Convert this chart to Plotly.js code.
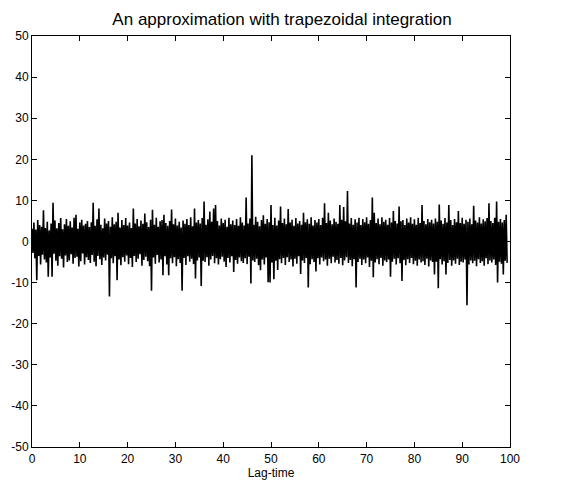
<!DOCTYPE html>
<html>
<head>
<meta charset="utf-8">
<script src="https://cdn.plot.ly/plotly-3.0.1.min.js"></script>
<style>html,body{margin:0;padding:0;background:#fff;}#chart{width:568px;height:480px;}</style>
</head>
<body>
<div id="chart"></div>
<script>
// Lag-time sampling of the series: start and step (used as Plotly x0/dx)
const lagStart = 0;
const lagStep = 0.2;

// Values, one every 0.2 lag-time
// (the dense trace alternates between its upper and lower excursions)
const approxValues = [
  3.1, -2.8, 4.6, -4.1, 2.9, -9.4, 5.2, -3.5, 4.0, -5.6, 3.6, -3.2, 7.6, -4.4, 3.3, -5.1, 4.8, -8.6, 2.7, -3.9,
  4.4, -8.6, 9.4, -3.0, 5.1, -4.7, 3.2, -5.9, 4.5, -3.6, 5.7, -4.2, 3.0, -6.3, 4.2, -3.4, 5.5, -5.0, 3.8, -4.6,
  4.9, -3.1, 3.4, -5.4, 5.8, -4.0, 6.5, -3.7, 3.1, -6.1, 4.6, -4.8, 5.3, -2.9, 3.9, -5.6, 4.3, -3.8, 5.0, -4.5,
  3.5, -5.2, 4.7, -3.3, 9.4, -4.9, 3.8, -6.0, 5.4, -3.5, 8.0, -4.3, 4.1, -5.7, 3.2, -3.9, 5.6, -4.6, 4.4, -3.2,
  5.0, -13.4, 3.6, -4.1, 5.9, -5.3, 4.2, -3.6, 4.8, -9.4, 7.0, -4.4, 3.4, -5.8, 5.2, -3.8, 4.0, -4.9, 5.7, -3.4,
  3.9, -5.5, 4.6, -4.0, 3.3, -6.2, 8.0, -3.5, 4.4, -5.0, 5.5, -4.2, 3.7, -3.1, 5.1, -5.9, 4.3, -4.5, 6.8, -3.7,
  4.7, -4.8, 3.5, -6.0, 5.3, -12.0, 7.7, -3.9, 4.1, -5.4, 5.8, -3.3, 3.6, -5.1, 4.9, -4.4, 5.2, -8.2, 6.5, -3.6,
  4.5, -5.6, 3.8, -8.2, 5.0, -4.1, 7.8, -5.3, 4.2, -3.8, 5.6, -6.0, 3.9, -4.3, 4.8, -5.2, 3.4, -12.0, 5.1, -4.0,
  4.3, -5.7, 5.5, -3.6, 4.0, -4.9, 5.9, -4.2, 3.7, -5.5, 8.0, -9.0, 4.6, -4.6, 5.2, -3.9, 4.4, -10.8, 5.7, -4.7,
  9.7, -5.0, 4.1, -3.8, 5.4, -5.9, 7.3, -4.4, 4.8, -3.5, 8.0, -5.3, 8.9, -4.1, 5.0, -5.6, 3.9, -4.3, 5.6, -3.7,
  4.5, -4.9, 5.3, -6.2, 3.6, -4.0, 5.8, -5.1, 4.2, -3.6, 5.1, -7.4, 4.0, -4.5, 5.5, -5.4, 3.8, -3.9, 5.9, -4.8,
  4.6, -5.2, 3.9, -4.1, 10.7, -5.5, 4.4, -3.7, 5.6, -10.2, 21.0, -4.6, 4.1, -5.0, 6.0, -4.2, 4.8, -5.8, 3.7, -7.0,
  5.2, -4.4, 6.4, -5.6, 4.3, -3.9, 5.5, -9.9, 4.7, -10.0, 8.9, -5.1, 4.0, -9.2, 5.8, -4.7, 3.9, -6.9, 5.1, -4.3,
  8.5, -5.3, 4.5, -4.0, 5.6, -5.7, 4.2, -3.8, 7.9, -5.0, 4.6, -4.4, 5.3, -6.1, 3.8, -4.2, 5.7, -5.4, 4.4, -3.6,
  5.0, -7.9, 4.1, -4.6, 7.0, -5.2, 4.7, -4.0, 5.4, -11.2, 4.3, -5.5, 5.9, -4.3, 3.9, -5.0, 5.2, -7.3, 4.6, -4.1,
  5.5, -5.6, 4.0, -3.9, 5.8, -4.8, 9.3, -4.4, 4.5, -5.9, 7.0, -4.2, 5.1, -5.3, 4.2, -3.7, 5.6, -5.1, 4.8, -4.5,
  4.3, -5.4, 8.9, -4.0, 5.3, -5.8, 8.4, -4.6, 4.9, -3.8, 12.3, -5.2, 4.4, -4.5, 5.7, -6.0, 4.1, -4.3, 5.4, -11.2,
  4.6, -5.0, 5.8, -4.2, 4.0, -5.7, 5.5, -4.4, 4.7, -5.3, 5.9, -3.9, 4.3, -6.2, 5.2, -4.7, 10.7, -8.7, 7.0, -5.1,
  4.5, -4.3, 5.6, -5.5, 4.2, -4.0, 5.9, -5.9, 4.8, -4.6, 5.3, -5.0, 4.1, -4.4, 5.7, -8.6, 4.6, -4.9, 7.4, -4.2,
  5.0, -5.6, 4.4, -4.1, 8.5, -5.3, 4.9, -9.6, 5.2, -4.5, 4.0, -5.8, 5.6, -4.3, 4.6, -5.2, 5.9, -4.0, 4.3, -5.5,
  5.4, -4.7, 4.1, -5.9, 5.8, -4.4, 4.5, -5.1, 8.9, -4.8, 5.0, -5.7, 4.2, -4.2, 5.5, -6.1, 4.7, -4.6, 5.3, -5.0,
  4.4, -8.0, 5.6, -4.9, 4.8, -11.4, 9.0, -4.3, 5.1, -5.6, 4.3, -4.8, 5.7, -8.0, 4.6, -5.2, 8.9, -4.5, 5.2, -5.9,
  4.0, -4.6, 5.5, -5.4, 4.7, -4.2, 7.4, -5.7, 4.5, -4.9, 5.8, -5.1, 4.3, -4.4, 5.3, -15.5, 4.8, -5.6, 5.6, -4.6,
  4.2, -5.3, 8.7, -4.7, 5.1, -6.0, 4.6, -4.3, 5.9, -5.2, 4.4, -4.8, 5.4, -5.9, 4.9, -4.1, 5.7, -5.5, 9.3, -4.6,
  5.0, -5.1, 4.5, -4.4, 5.8, -5.7, 9.7, -10.0, 4.8, -4.9, 5.5, -5.4, 4.6, -8.0, 5.2, -4.7, 6.5, -5.2
];

// Axis ticks
const xTicks = [0, 10, 20, 30, 40, 50, 60, 70, 80, 90, 100];
const yTicks = [-50, -40, -30, -20, -10, 0, 10, 20, 30, 40, 50];

const titleText = 'An approximation with trapezoidal integration';
const xTitle = 'Lag-time';

const fontFam = '"Liberation Sans", Arial, Helvetica, sans-serif';

const trace = {
  type: 'scatter',
  mode: 'lines',
  x0: lagStart,
  dx: lagStep,
  y: approxValues,
  line: {color: '#000000', width: 1.6},
  hoverinfo: 'skip'
};

const axisCommon = {
  showgrid: false,
  zeroline: false,
  showline: true,
  linecolor: '#000',
  linewidth: 1,
  mirror: 'ticks',
  ticks: 'inside',
  ticklen: 5,
  tickwidth: 1,
  tickcolor: '#000',
  tickfont: {family: fontFam, size: 12, color: '#000'},
  tickmode: 'array'
};

const layout = {
  width: 568,
  height: 480,
  margin: {l: 32, r: 58, t: 36, b: 33, pad: 0},
  paper_bgcolor: '#fff',
  plot_bgcolor: '#fff',
  showlegend: false,
  font: {family: fontFam, size: 12, color: '#000'},
  title: {
    text: titleText,
    font: {family: fontFam, size: 17, color: '#000'},
    x: 282/568, xref: 'container', xanchor: 'center',
    y: 1 - 19/480, yref: 'container', yanchor: 'middle'
  },
  xaxis: Object.assign({}, axisCommon, {
    range: [0, 100],
    tickvals: xTicks,
    ticktext: xTicks.map(String),
    ticklabelstandoff: 1,
    title: {text: xTitle, font: {family: fontFam, size: 12, color: '#000'}, standoff: 1}
  }),
  yaxis: Object.assign({}, axisCommon, {
    range: [-50, 50],
    tickvals: yTicks,
    ticktext: yTicks.map(String)
  })
};

Plotly.newPlot('chart', [trace], layout, {displayModeBar: false, staticPlot: true});
</script>
</body>
</html>
